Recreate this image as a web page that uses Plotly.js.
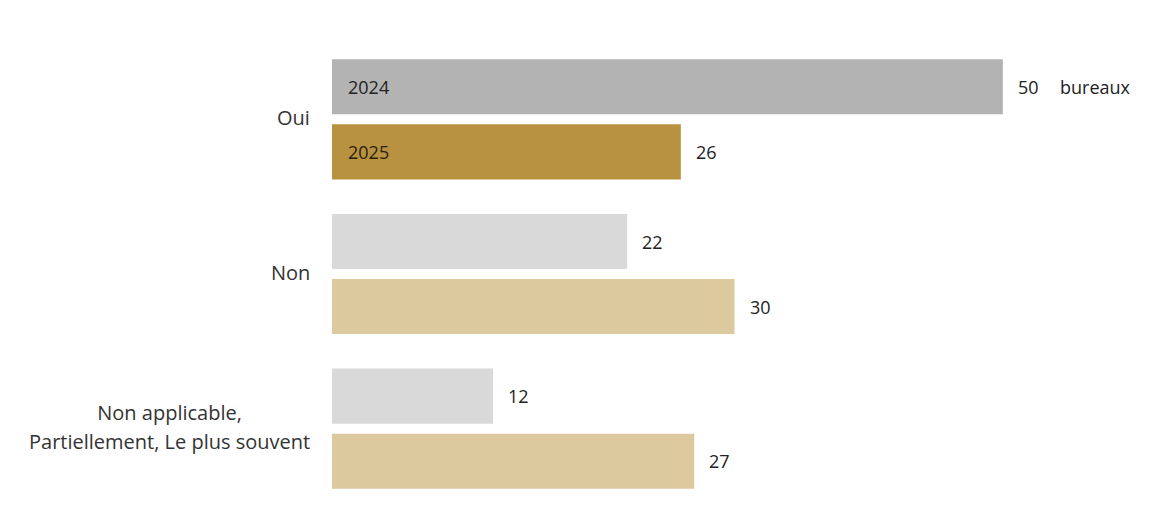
<!DOCTYPE html>
<html>
<head>
<meta charset="utf-8">
<script src="https://cdn.plot.ly/plotly-3.0.1.min.js"></script>
<style>html,body{margin:0;padding:0;background:#fff;}#chart{width:1152px;height:527px;}</style>
</head>
<body>
<div id="chart"></div>
<script>
var categories = ["Oui", "Non", "Non applicable,<br>Partiellement, Le plus souvent"];
var values2024 = [50, 22, 12];
var values2025 = [26, 30, 27];
var seriesNames = ["2024", "2025"];
var unitLabel = "bureaux";

var colors2024 = ["#b3b3b3", "#d9d9d9", "#d9d9d9"];
var colors2025 = ["#b89241", "#dcc99d", "#dcc99d"];
var fontFam = "'Open Sans', 'Noto Sans', sans-serif";
var fs = 18;

var traces = [
  {type: "bar", orientation: "h", name: seriesNames[0], y: categories, x: values2024,
   marker: {color: colors2024}, hoverinfo: "none"},
  {type: "bar", orientation: "h", name: seriesNames[1], y: categories, x: values2025,
   marker: {color: colors2025}, hoverinfo: "none"}
];

var ann = [];
var off = 32.5;
categories.forEach(function (c, i) {
  ann.push({x: values2024[i], y: c, xref: "x", yref: "y", text: String(values2024[i]),
    showarrow: false, xanchor: "left", yanchor: "middle", xshift: 13, yshift: off,
    font: {family: fontFam, size: fs, color: "#222"}});
  ann.push({x: values2025[i], y: c, xref: "x", yref: "y", text: String(values2025[i]),
    showarrow: false, xanchor: "left", yanchor: "middle", xshift: 13, yshift: -off,
    font: {family: fontFam, size: fs, color: "#222"}});
  var styled = c.split("<br>").map(function (s) {
    return '<span style="font-size:20px">' + s + '</span>';
  }).join("<br>");
  ann.push({x: 0, y: c, xref: "paper", yref: "y", text: styled, showarrow: false,
    xanchor: "right", yanchor: "middle", align: "center", xshift: -20, yshift: 2,
    font: {family: fontFam, size: 22, color: "#333"}});
});
ann.push({x: values2024[0], y: categories[0], xref: "x", yref: "y", text: unitLabel,
  showarrow: false, xanchor: "left", yanchor: "middle", xshift: 55, yshift: off,
  font: {family: fontFam, size: fs, color: "#222"}});
ann.push({x: 0, y: categories[0], xref: "x", yref: "y", text: seriesNames[0],
  showarrow: false, xanchor: "left", yanchor: "middle", xshift: 14, yshift: off,
  font: {family: fontFam, size: fs, color: "#222"}});
ann.push({x: 0, y: categories[0], xref: "x", yref: "y", text: seriesNames[1],
  showarrow: false, xanchor: "left", yanchor: "middle", xshift: 14, yshift: -off,
  font: {family: fontFam, size: fs, color: "#2a1d0a"}});

var layout = {
  width: 1152, height: 527,
  margin: {l: 332, r: 15, t: 42, b: 21},
  paper_bgcolor: "#fff", plot_bgcolor: "#fff",
  barmode: "group", bargap: 0.1586, bargroupgap: 0.154,
  showlegend: false,
  xaxis: {range: [0, 60], visible: false, fixedrange: true},
  yaxis: {autorange: "reversed", showticklabels: false, showgrid: false, zeroline: false,
          showline: false, ticks: "", fixedrange: true},
  annotations: ann,
  font: {family: fontFam}
};

Plotly.newPlot("chart", traces, layout, {staticPlot: true, displayModeBar: false});
</script>
</body>
</html>
